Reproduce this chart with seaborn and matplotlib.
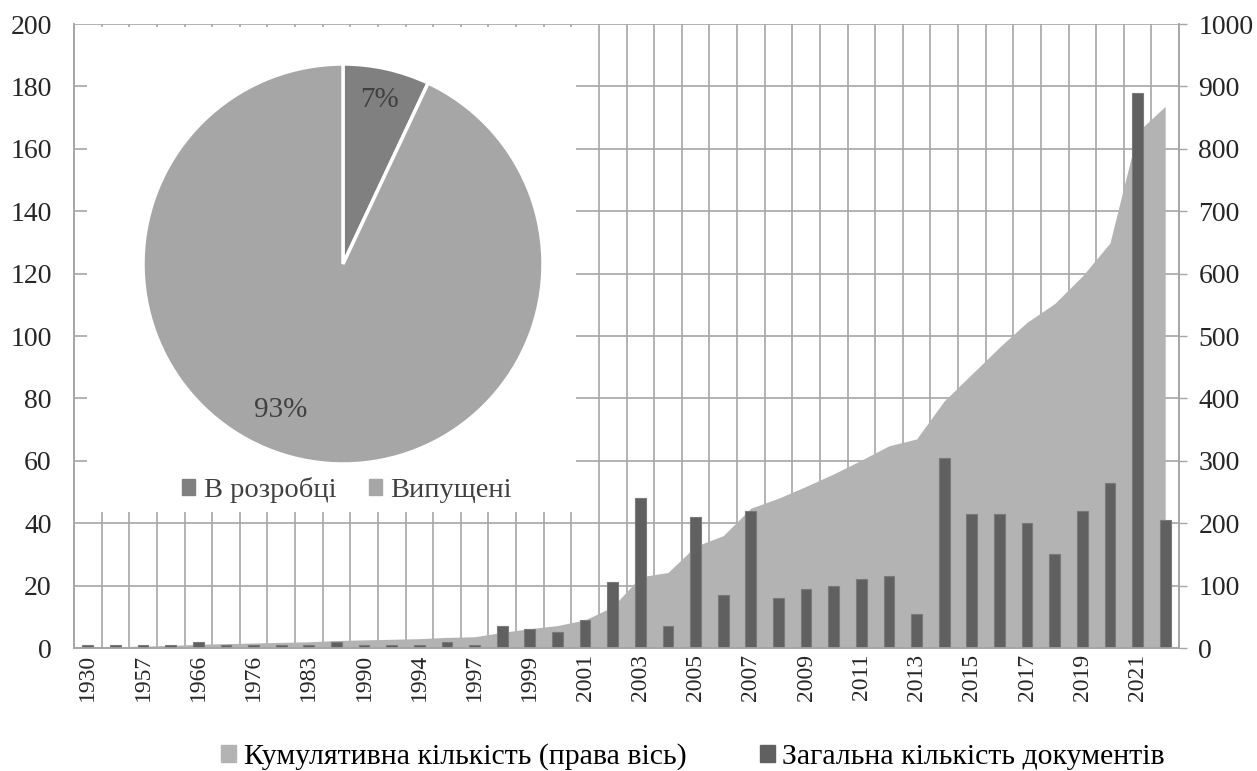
import numpy as np
import pandas as pd
import matplotlib
matplotlib.use("Agg")
import matplotlib.pyplot as plt
from matplotlib.patches import Patch
import seaborn as sns

# categories (only every second one is labelled in the original)
years = ["1930", "1950", "1957", "1961", "1966", "1970", "1976", "1980",
         "1983", "1987", "1990", "1992", "1994", "1996", "1997", "1998",
         "1999", "2000", "2001", "2002", "2003", "2004", "2005", "2006",
         "2007", "2008", "2009", "2010", "2011", "2012", "2013", "2014",
         "2015", "2016", "2017", "2018", "2019", "2020", "2021", "2022"]
docs_total = [1, 1, 1, 1, 2, 1, 1, 1, 1, 2, 1, 1, 1, 2, 1, 7,
              6, 5, 9, 21, 48, 7, 42, 17, 44, 16, 19, 20, 22, 23, 11, 61,
              43, 43, 40, 30, 44, 53, 178, 41]
docs_cumulative = [1, 2, 3, 4, 6, 7, 8, 9, 10, 12, 13, 14, 15, 17, 18, 25,
                   31, 36, 45, 66, 114, 121, 163, 180, 224, 240, 259, 279, 301, 324, 335, 396,
                   439, 482, 522, 552, 596, 649, 827, 868]

pie_labels = ["В розробці", "Випущені"]
pie_values = [7, 93]

legend_labels = ["Кумулятивна кількість (права вісь)", "Загальна кількість документів"]

sns.set_style("white")
plt.rcParams["font.family"] = ["Liberation Serif", "DejaVu Serif"]

W, H = 1257, 771
fig = plt.figure(figsize=(W / 100, H / 100), dpi=100)

grid_col = "#a6a6a6"
area_col = "#b3b3b3"
bar_col = "#606060"

# area (right axis) lives on the base axes so bars can be drawn over it
ax_area = fig.add_axes([74 / W, (H - 648) / H, (1179 - 74) / W, (648 - 24) / H])
ax_bar = ax_area.twinx()

n = len(years)
x = np.arange(n)
ax_area.fill_between(x, docs_cumulative, color=area_col, lw=0, zorder=2)
ax_area.set_ylim(0, 1000)
ax_area.set_yticks(np.arange(0, 1001, 100))

df = pd.DataFrame({"year": years, "count": docs_total})
sns.barplot(data=df, x="year", y="count", order=years, ax=ax_bar,
            color=bar_col, saturation=1, width=0.39,
            edgecolor="#7a7a7a", linewidth=0.8)
ax_bar.set_ylim(0, 200)
ax_bar.set_yticks(np.arange(0, 201, 20))
ax_bar.set_xlim(-0.5, n - 0.5)
ax_bar.grid(False)
ax_bar.set_xlabel("")
ax_bar.set_ylabel("")

# axis sides
ax_area.yaxis.tick_right()
ax_bar.yaxis.tick_left()

ax_area.set_xticks(np.arange(0, n, 2))
ax_area.set_xticklabels(years[::2], rotation=90)
ax_area.set_xticks(np.arange(-0.5, n, 1), minor=True)
ax_area.set_axisbelow(True)
ax_area.grid(which="minor", axis="x", color=grid_col, lw=1.2, zorder=0)
ax_area.grid(which="major", axis="y", color=grid_col, lw=1.2, zorder=0)
ax_area.grid(which="major", axis="x", visible=False)

ax_area.tick_params(axis="x", which="both", length=0, pad=4, labelsize=17)
ax_area.tick_params(axis="y", length=6, width=1, color=grid_col, pad=8, labelsize=20)
ax_bar.tick_params(axis="y", length=0, pad=16, labelsize=20)

for a in (ax_area, ax_bar):
    a.spines["top"].set_visible(False)
    for s in ("left", "right", "bottom"):
        a.spines[s].set_color(grid_col)
        a.spines[s].set_linewidth(1.2)

# white box holding the pie inset
box = fig.add_axes([87 / W, (H - 512) / H, (576 - 87) / W, (512 - 27) / H])
box.set_xticks([])
box.set_yticks([])
for s in box.spines.values():
    s.set_visible(False)
box.set_facecolor("white")

ax_pie = fig.add_axes([143 / W, (H - 464) / H, 400 / W, 400 / H])
wedges, _, autotexts = ax_pie.pie(
    pie_values, colors=["#808080", "#a6a6a6"], startangle=90, counterclock=False,
    autopct="%d%%", pctdistance=0.84,
    wedgeprops=dict(edgecolor="white", linewidth=2.5),
    textprops=dict(color="#404040", fontsize=21))
autotexts[1].set_position((-0.31, -0.73))
ax_pie.set_xlim(-1, 1)
ax_pie.set_ylim(-1, 1)
ax_pie.set_aspect("equal")

box.legend(handles=[Patch(color="#808080"), Patch(color="#a6a6a6")], labels=pie_labels,
           loc="center", bbox_to_anchor=(347 / W, (H - 490) / H), bbox_transform=fig.transFigure,
           ncol=2, frameon=False, fontsize=20.5, labelcolor="#404040",
           handlelength=0.45, handleheight=0.45, handletextpad=0.3, columnspacing=1.15)

fig.legend(handles=[Patch(color=area_col), Patch(color=bar_col)], labels=legend_labels,
           loc="center", bbox_to_anchor=(693 / W, (H - 757) / H),
           ncol=2, frameon=False, fontsize=21.5, labelcolor="black",
           handlelength=0.5, handleheight=0.5, handletextpad=0.25, columnspacing=2.45)

fig.savefig("out.png", dpi=100)
